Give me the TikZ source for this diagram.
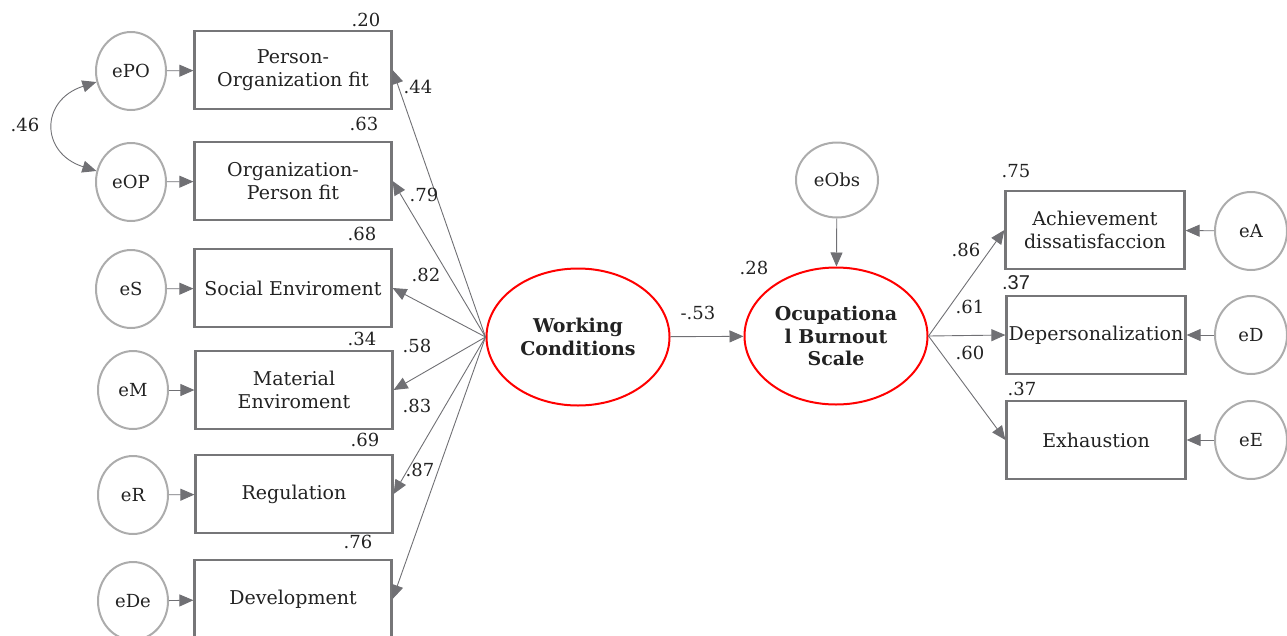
\documentclass[tikz,border=0pt]{standalone}
\usepackage{fontspec}
\setmainfont{DejaVu Serif}
\newfontfamily\narrowsans{Liberation Sans}
\usetikzlibrary{arrows.meta,shapes.geometric}
\definecolor{boxgray}{RGB}{118,118,120}
\definecolor{errgray}{RGB}{172,172,172}
\definecolor{linegray}{RGB}{112,112,116}
\definecolor{txt}{RGB}{34,34,34}
\begin{document}
\begin{tikzpicture}[x=1pt,y=-1pt,line join=bevel,font=\fontsize{18}{22}\selectfont,text=txt]
  \tikzstyle{obs}=[draw=boxgray,line width=2.2pt,line join=miter,minimum width=197pt,minimum height=78pt,align=center,inner sep=2pt,font=\fontsize{19}{22.5}\selectfont]
  \tikzstyle{err}=[ellipse,draw=errgray,line width=2pt,minimum width=70pt,minimum height=78pt,inner sep=0pt]
  \tikzstyle{latent}=[ellipse,draw=red,line width=2pt,minimum width=183pt,minimum height=137pt,align=center,font=\fontsize{19}{22.5}\selectfont\bfseries,inner sep=0pt]
  \tikzstyle{path}=[draw=linegray,line width=0.9pt,-{Triangle[length=14pt,width=12pt]}]
  \useasboundingbox (0,0) rectangle (1287,635);
  % measured variables, left
  \node[obs] (PO) at (293,70)  {Person-\\Organization fit};
  \node[obs] (OP) at (293,181) {Organization-\\Person fit};
  \node[obs] (S)  at (293,288) {Social Enviroment};
  \node[obs] (M)  at (294,390) {Material\\Enviroment};
  \node[obs] (R)  at (294,494) {Regulation};
  \node[obs] (De) at (293,599) {Development};
  \node[err] (ePO) at (131,71)  {ePO};
  \node[err] (eOP) at (131,182) {eOP};
  \node[err] (eS)  at (131,289) {eS};
  \node[err] (eM)  at (133,390) {eM};
  \node[err] (eR)  at (133,495) {eR};
  \node[err] (eDe) at (133,601) {eDe};
  % latent variables
  \node[latent] (WC)  at (578,337) {Working\\Conditions};
  \node[latent] (OBS) at (836,336) {Ocupationa\\l Burnout\\Scale};
  \node[err,minimum width=82pt,minimum height=75pt] (eObs) at (837,180) {eObs};
  % measured variables, right
  \node[obs,minimum width=179pt] (A) at (1095,230) {Achievement\\dissatisfaccion};
  \node[obs,minimum width=179pt] (D) at (1096,335) {Depersonalization};
  \node[obs,minimum width=179pt] (E) at (1096,440) {Exhaustion};
  \node[err,minimum width=72pt] (eA) at (1251,231) {eA};
  \node[err,minimum width=72pt] (eD) at (1251,335) {eD};
  \node[err,minimum width=72pt] (eE) at (1251,440) {eE};
  % paths
  \path (ePO) edge[path] (PO)
        (eOP) edge[path] (OP)
        (eS)  edge[path] (S)
        (eM)  edge[path] (M)
        (eR)  edge[path] (R)
        (eDe) edge[path] (De)
        (WC.west) edge[path] (PO.east)
        (WC.west) edge[path] (OP.east)
        (WC.west) edge[path] (S.east)
        (WC.west) edge[path] (M.east)
        (WC.west) edge[path] (R.east)
        (WC.west) edge[path] (De.east)
        (WC) edge[path] (OBS)
        (eObs) edge[path] (OBS)
        (OBS.east) edge[path] (A.west)
        (OBS.east) edge[path] (D.west)
        (OBS.east) edge[path] (E.west)
        (eA) edge[path] (A)
        (eD) edge[path] (D)
        (eE) edge[path] (E);
  \draw[path,{Triangle[length=14pt,width=12pt]}-{Triangle[length=14pt,width=12pt]}] (ePO) .. controls (40,100) and (40,153) .. (eOP);
  % estimates
  \node (r20) at (366,20)  {.20};
  \node (r63) at (364,124) {.63};
  \node (r68) at (362,234) {.68};
  \node (r34) at (362,339) {.34};
  \node (r69) at (365,440) {.69};
  \node (r76) at (358,542) {.76};
  \node (w44) at (418,87)  {.44};
  \node (w79) at (424,195) {.79};
  \node (w82) at (426,275) {.82};
  \node (w58) at (417,346) {.58};
  \node (w83) at (417,406) {.83};
  \node (w87) at (420,470) {.87};
  \node (c46) at (25,125)  {.46};
  \node (w53) at (698,313) {-.53};
  \node (r28) at (754,268) {.28};
  \node (w86) at (966,250) {.86};
  \node (w61) at (970,307) {.61};
  \node (w60) at (970,353) {.60};
  \node (r75) at (1016,171) {.75};
  \node[font=\narrowsans\fontsize{20}{22}\selectfont] (r37a) at (1016,283) {.37};
  \node (r37b) at (1022,389) {.37};
\end{tikzpicture}
\end{document}
